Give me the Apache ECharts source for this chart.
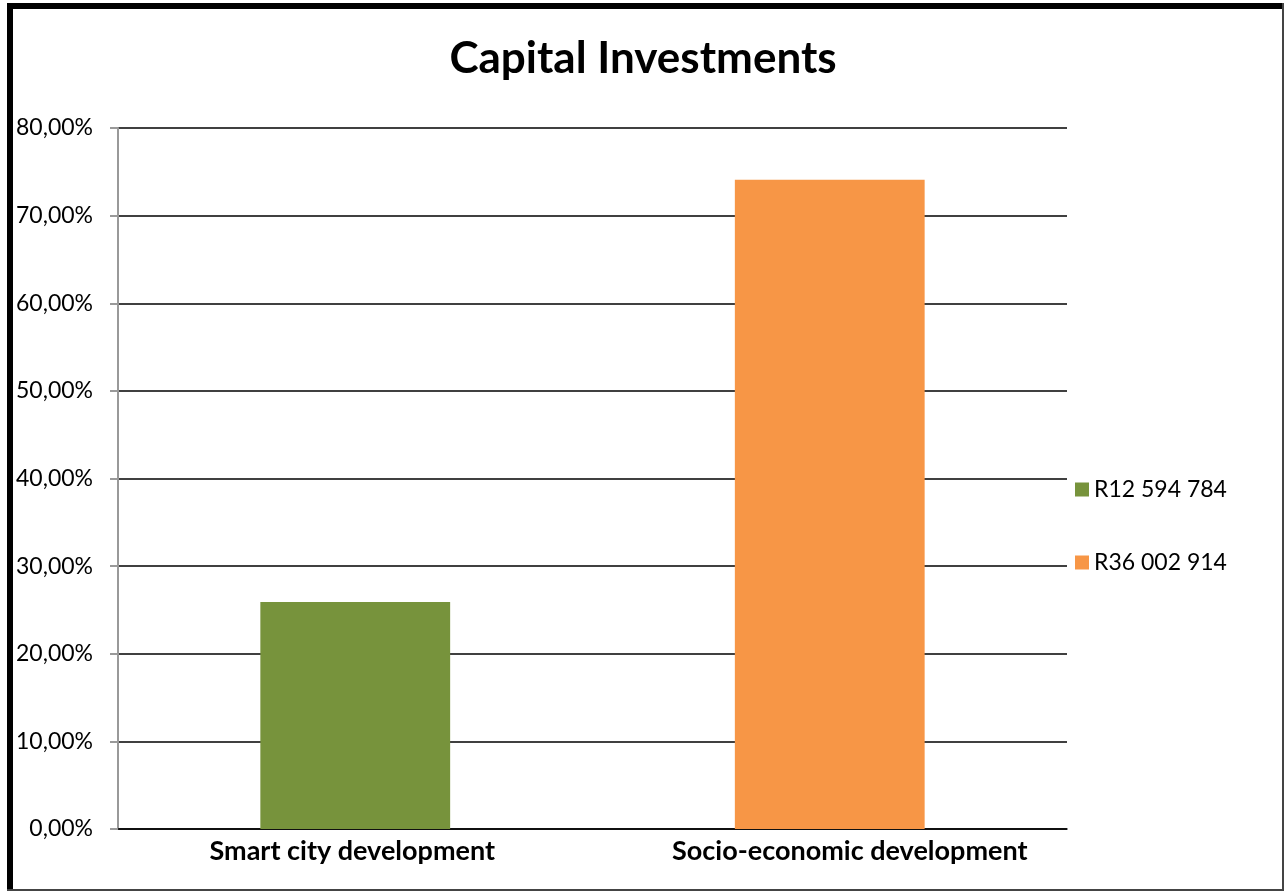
<!DOCTYPE html>
<html><head><meta charset="utf-8">
<script src="https://cdn.jsdelivr.net/npm/echarts@6/dist/echarts.min.js"></script>
<style>html,body{margin:0;padding:0;background:#fff}#c{width:1286px;height:892px}</style>
</head><body><div id="c"></div>
<script>
const title = 'Capital Investments';
const categories = ['Smart city development', 'Socio-economic development'];
const seriesNames = ['R12 594 784', 'R36 002 914'];
const amounts = [12594784, 36002914];
const shares = [0.2592, 0.7408];
const colors = ['#77933C', '#F79646'];
const yTicks = {min: 0, max: 0.8, interval: 0.1};

const chart = echarts.init(document.getElementById('c'), null, {renderer: 'canvas'});
const font = 'Lato, "Open Sans", sans-serif';
const series = seriesNames.map((n, i) => ({
  name: n, type: 'bar', stack: 'all', barWidth: '40%',
  itemStyle: {color: colors[i]},
  data: categories.map((c, j) => j === i ? shares[i] : null)
}));
const catLabelPad = [[0, 6, 0, 0], [0, 0, 0, 40]];
chart.setOption({
  animation: false,
  title: {text: title, left: 'center', top: 32,
    textStyle: {fontFamily: font, fontWeight: 'bold', fontSize: 44, color: '#000'}},
  legend: {orient: 'vertical', left: 1070, top: 473, itemWidth: 14, itemHeight: 14, itemGap: 50,
    icon: 'rect', textStyle: {fontFamily: font, fontSize: 23, color: '#000'},
    data: seriesNames},
  grid: {left: 118, right: 219, top: 128, bottom: 63},
  xAxis: {type: 'category',
    data: categories.map((c, i) => ({value: c, textStyle: {padding: catLabelPad[i]}})),
    axisLine: {lineStyle: {color: '#000', width: 1.5}},
    axisTick: {show: false},
    axisLabel: {fontFamily: font, fontWeight: 'bold', fontSize: 27, color: '#000', margin: 9}},
  yAxis: {type: 'value', min: yTicks.min, max: yTicks.max, interval: yTicks.interval,
    axisLine: {show: true, lineStyle: {color: '#999', width: 2}},
    axisTick: {show: true, length: 8, lineStyle: {color: '#999', width: 2}},
    splitLine: {lineStyle: {color: '#000', width: 1.5}},
    axisLabel: {fontFamily: font, fontSize: 23, color: '#000', margin: 25,
      formatter: v => (v * 100).toFixed(2).replace('.', ',') + '%'}},
  graphic: [
    {type: 'rect', shape: {x: 7, y: 3, width: 6, height: 887}, style: {fill: '#000'}},
    {type: 'rect', shape: {x: 7, y: 3, width: 1276, height: 6}, style: {fill: '#000'}},
    {type: 'rect', shape: {x: 1282, y: 3, width: 2, height: 888}, style: {fill: '#444'}},
    {type: 'rect', shape: {x: 7, y: 889, width: 1277, height: 2}, style: {fill: '#444'}}
  ],
  series: series
});
</script></body></html>
